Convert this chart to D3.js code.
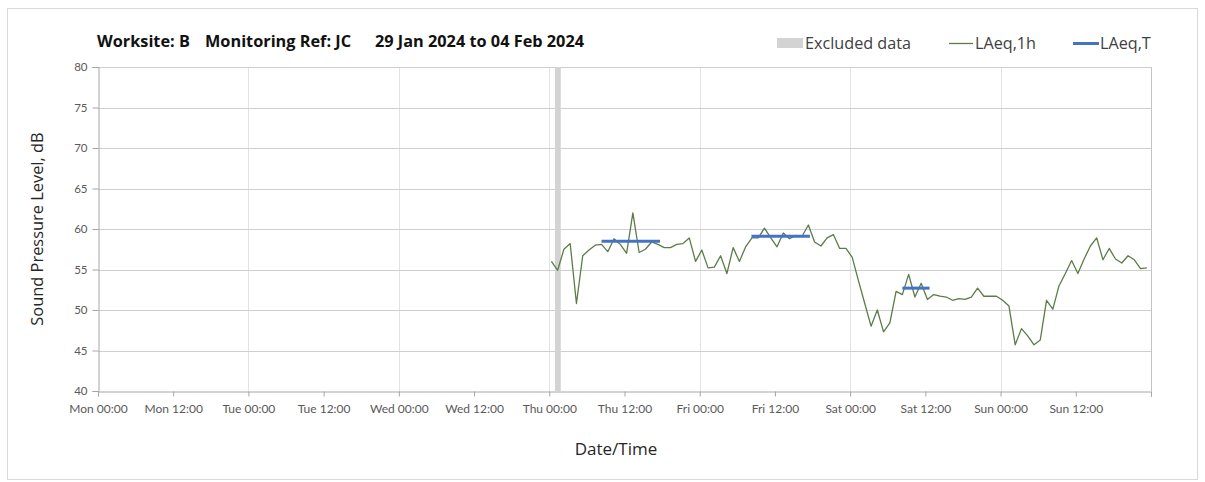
<!DOCTYPE html>
<html><head><meta charset="utf-8">
<script src="https://cdn.jsdelivr.net/npm/d3@7"></script>
<style>
html,body{margin:0;padding:0;background:#fff;}
text{font-family:"Open Sans",Lato,sans-serif;}
</style></head>
<body><svg id="c" width="1205" height="482"></svg>
<script>
// ---- data ----
const titleParts = ["Worksite: B", "Monitoring Ref: JC", "29 Jan 2024 to 04 Feb 2024"];
const yTicks = [40, 45, 50, 55, 60, 65, 70, 75, 80];
const seriesStart = "2024-02-01T00:20";   // first hourly LAeq,1h value (Thu)
const laeq1h = [
 56.0,54.9,57.5,58.2,50.8,56.7,57.4,58.0,58.1,57.2,58.8,58.1,57.0,62.0,57.1,57.5,
 58.4,58.1,57.7,57.7,58.1,58.2,58.9,56.0,57.4,55.2,55.3,56.7,54.5,57.7,56.0,57.8,
 58.9,58.9,60.1,58.9,57.8,59.5,58.8,59.2,59.1,60.5,58.4,57.9,58.9,59.3,57.6,57.6,
 56.5,53.6,50.8,48.0,50.0,47.3,48.4,52.3,51.9,54.4,51.6,53.3,51.3,51.9,51.7,51.6,
 51.2,51.4,51.3,51.6,52.7,51.7,51.7,51.7,51.2,50.5,45.7,47.7,46.8,45.7,46.3,51.2,
 50.1,53.0,54.5,56.1,54.5,56.3,57.9,58.9,56.2,57.6,56.3,55.8,56.7,56.2,55.1,55.2
];
const laeqTStart = ["2024-02-01T08:20", "2024-02-02T08:15", "2024-02-03T08:20"];
const laeqTEnd   = ["2024-02-01T17:40", "2024-02-02T17:35", "2024-02-03T12:40"];
const laeqTValue = [58.5, 59.1, 52.7];
const excluded = [["2024-02-01T00:55", "2024-02-01T01:50"]];
const domainStart = "2024-01-29T00:00", domainEnd = "2024-02-05T00:00";

// ---- chart ----
const parse = d3.timeParse("%Y-%m-%dT%H:%M");
const svg = d3.select("#c");
const L = 98, R = 1151, T = 67, B = 391;
const x = d3.scaleTime().domain([parse(domainStart), parse(domainEnd)]).range([L, R]);
const y = d3.scaleLinear().domain([40, 80]).range([B, T]);

// outer frame
svg.append("rect").attr("x", 7.5).attr("y", 8.5).attr("width", 1190).attr("height", 471)
  .attr("fill", "none").attr("stroke", "#d9d9d9");

// vertical day gridlines
const days = d3.timeDay.range(parse(domainStart), parse(domainEnd));
svg.append("g").selectAll("line").data(days.slice(1)).join("line")
  .attr("x1", d => Math.round(x(d)) + 0.5).attr("x2", d => Math.round(x(d)) + 0.5)
  .attr("y1", T).attr("y2", B).attr("stroke", "#e3e3e3");
// horizontal gridlines
svg.append("g").selectAll("line").data(yTicks.slice(1)).join("line")
  .attr("x1", L).attr("x2", R)
  .attr("y1", d => Math.round(y(d)) + 0.5).attr("y2", d => Math.round(y(d)) + 0.5)
  .attr("stroke", "#cfcfcf");
// right edge
svg.append("line").attr("x1", R + 0.5).attr("x2", R + 0.5).attr("y1", T).attr("y2", B)
  .attr("stroke", "#c4c4c4");

// excluded band
svg.append("g").selectAll("rect").data(excluded).join("rect")
  .attr("x", d => x(parse(d[0]))).attr("width", d => x(parse(d[1])) - x(parse(d[0])))
  .attr("y", T).attr("height", B - T).attr("fill", "#d3d3d3");

// axes
const yAxis = d3.axisLeft(y).tickValues(yTicks).tickSize(6).tickPadding(5).tickFormat(d3.format("d"));
const gy = svg.append("g").attr("transform", `translate(${L + 0.5},0)`).call(yAxis);
const xTicks = d3.timeHour.every(12).range(parse(domainStart), d3.timeHour.offset(parse(domainEnd), 1));
const fmt = d3.timeFormat("%a %H:%M");
const xAxis = d3.axisBottom(x).tickValues(xTicks).tickSize(5).tickPadding(8)
  .tickFormat((d, i) => i < xTicks.length - 1 ? fmt(d) : "");
const gx = svg.append("g").attr("transform", `translate(0,${B + 0.5})`).call(xAxis);
[gx, gy].forEach(g => {
  g.select(".domain").attr("stroke", "#a6a6a6");
  g.selectAll(".tick line").attr("stroke", "#a6a6a6");
  g.selectAll(".tick text").attr("fill", "#595959").style("font-size", "11.5px")
    .style("font-family", "Lato,sans-serif");
});
gx.selectAll(".tick text").style("font-size", "12px");
gy.selectAll(".tick text").attr("dy", "0.32em");

// LAeq,1h line
const pts = laeq1h.map((v, i) => ({ t: d3.timeHour.offset(parse(seriesStart), i), v }));
svg.append("path").datum(pts)
  .attr("d", d3.line().x(d => x(d.t)).y(d => y(d.v)))
  .attr("fill", "none").attr("stroke", "#5b7c48").attr("stroke-width", 1.3)
  .attr("stroke-linejoin", "round");

// LAeq,T segments
svg.append("g").selectAll("line").data(laeqTValue).join("line")
  .attr("x1", (d, i) => x(parse(laeqTStart[i]))).attr("x2", (d, i) => x(parse(laeqTEnd[i])))
  .attr("y1", d => y(d)).attr("y2", d => y(d))
  .attr("stroke", "#4472c4").attr("stroke-width", 3);

// title
const tx = [97, 205, 375];
svg.append("g").selectAll("text").data(titleParts).join("text")
  .attr("x", (d, i) => tx[i]).attr("y", 47).text(d => d)
  .style("font-size", "16.3px").style("font-weight", "bold").attr("fill", "#111");

// legend
const lg = svg.append("g").attr("fill", "#404040").style("font-size", "16.2px");
lg.append("rect").attr("x", 777).attr("y", 38).attr("width", 26).attr("height", 10).attr("fill", "#d3d3d3");
lg.append("text").attr("x", 805).attr("y", 49).text("Excluded data");
lg.append("line").attr("x1", 949).attr("x2", 973).attr("y1", 43.5).attr("y2", 43.5)
  .attr("stroke", "#5b7c48").attr("stroke-width", 1.3);
lg.append("text").attr("x", 975).attr("y", 49).text("LAeq,1h");
lg.append("line").attr("x1", 1073).attr("x2", 1099).attr("y1", 43.5).attr("y2", 43.5)
  .attr("stroke", "#4472c4").attr("stroke-width", 3);
lg.append("text").attr("x", 1100).attr("y", 49).text("LAeq,T");

// axis titles
svg.append("text").attr("transform", `translate(43,${(T + B) / 2}) rotate(-90)`)
  .attr("text-anchor", "middle").style("font-size", "16.4px").attr("fill", "#262626")
  .text("Sound Pressure Level, dB");
svg.append("text").attr("x", 616).attr("y", 455).attr("text-anchor", "middle")
  .style("font-size", "17px").attr("fill", "#262626").text("Date/Time");
</script></body></html>
